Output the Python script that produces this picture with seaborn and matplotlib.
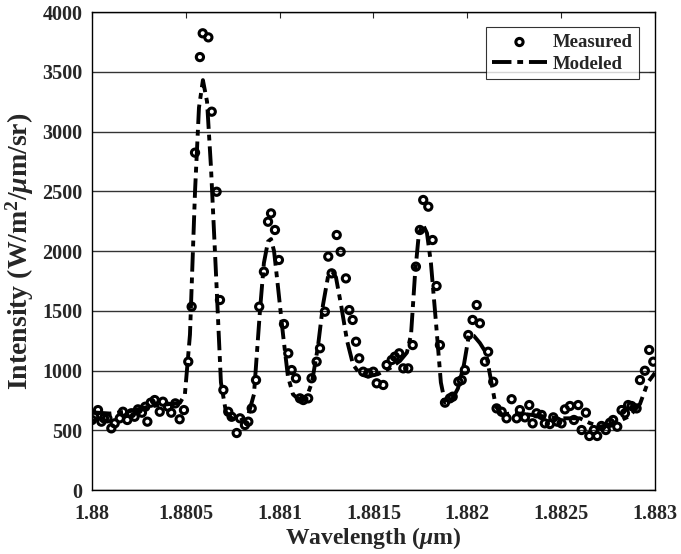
import matplotlib
matplotlib.use("Agg")
import matplotlib.pyplot as plt
from matplotlib.ticker import FuncFormatter
import pandas as pd
import seaborn as sns

# Measured spectrum
meas_wl = [
    1.880000, 1.880011, 1.880032, 1.880050, 1.880064, 1.880082, 1.880103, 1.880121,
    1.880148, 1.880165, 1.880188, 1.880209, 1.880227, 1.880245, 1.880266, 1.880284,
    1.880295, 1.880313, 1.880334, 1.880361, 1.880378, 1.880405, 1.880422, 1.880444,
    1.880467, 1.880490, 1.880513, 1.880531, 1.880549, 1.880575, 1.880590, 1.880620,
    1.880638, 1.880664, 1.880682, 1.880700, 1.880726, 1.880744, 1.880771, 1.880789,
    1.880815, 1.880833, 1.880851, 1.880874, 1.880891, 1.880916, 1.880938, 1.880954,
    1.880975, 1.880996, 1.881023, 1.881046, 1.881064, 1.881087, 1.881108, 1.881126,
    1.881152, 1.881170, 1.881197, 1.881215, 1.881241, 1.881259, 1.881277, 1.881304,
    1.881325, 1.881353, 1.881371, 1.881389, 1.881407, 1.881424, 1.881445, 1.881472,
    1.881499, 1.881517, 1.881552, 1.881570, 1.881597, 1.881614, 1.881637, 1.881659,
    1.881685, 1.881709, 1.881726, 1.881747, 1.881765, 1.881792, 1.881815, 1.881836,
    1.881854, 1.881881, 1.881907, 1.881922, 1.881952, 1.881970, 1.881987, 1.882005,
    1.882028, 1.882050, 1.882067, 1.882094, 1.882111, 1.882138, 1.882156, 1.882183,
    1.882209, 1.882236, 1.882263, 1.882280, 1.882307, 1.882330, 1.882348, 1.882369,
    1.882396, 1.882413, 1.882440, 1.882458, 1.882479, 1.882502, 1.882520, 1.882547,
    1.882568, 1.882591, 1.882609, 1.882632, 1.882650, 1.882674, 1.882692, 1.882715,
    1.882738, 1.882760, 1.882777, 1.882799, 1.882822, 1.882840, 1.882857, 1.882875,
    1.882902, 1.882920, 1.882946, 1.882969, 1.882991,
]
meas_val = [
    586, 613, 669, 572, 600, 600, 516, 558,
    600, 655, 586, 642, 613, 675, 647, 697,
    572, 731, 753, 655, 739, 697, 647, 725,
    592, 669, 1074, 1534, 2823, 3623, 3822, 3788,
    3166, 2496, 1590, 837, 655, 613, 477, 600,
    544, 572, 683, 920, 1534, 1827, 2245, 2315,
    2176, 1925, 1389, 1144, 1004, 935, 767, 753,
    767, 935, 1074, 1186, 1492, 1953, 1813, 2134,
    1994, 1771, 1506, 1423, 1241, 1102, 990, 976,
    990, 893, 879, 1046, 1088, 1116, 1144, 1018,
    1018, 1213, 1869, 2176, 2427, 2371, 2092, 1707,
    1213, 731, 767, 781, 906, 920, 1004, 1297,
    1423, 1548, 1395, 1074, 1157, 906, 683, 655,
    600, 760, 600, 669, 608, 711, 558, 642,
    628, 558, 552, 608, 572, 558, 675, 703,
    586, 711, 502, 647, 452, 502, 452, 536,
    502, 563, 586, 530, 669, 642, 711, 703,
    683, 920, 998, 1172, 1074,
]

# Modeled spectrum
model_wl = [
    1.880000, 1.880096, 1.880202, 1.880309, 1.880416, 1.880469, 1.880495, 1.880522,
    1.880549, 1.880570, 1.880591, 1.880613, 1.880634, 1.880661, 1.880687, 1.880714,
    1.880746, 1.880789, 1.880831, 1.880863, 1.880895, 1.880916, 1.880938, 1.880954,
    1.880970, 1.880991, 1.881018, 1.881044, 1.881071, 1.881108, 1.881140, 1.881172,
    1.881204, 1.881231, 1.881257, 1.881279, 1.881300, 1.881327, 1.881359, 1.881391,
    1.881428, 1.881470, 1.881524, 1.881588, 1.881641, 1.881678, 1.881700, 1.881721,
    1.881742, 1.881764, 1.881785, 1.881806, 1.881833, 1.881859, 1.881881, 1.881913,
    1.881950, 1.881982, 1.882009, 1.882035, 1.882067, 1.882099, 1.882126, 1.882152,
    1.882184, 1.882227, 1.882280, 1.882387, 1.882493, 1.882600, 1.882653, 1.882707,
    1.882760, 1.882813, 1.882866, 1.882920, 1.882962, 1.883000,
]
model_val = [
    650, 640, 660, 700, 720, 730, 800, 1300,
    2500, 3200, 3430, 3250, 2700, 1800, 900, 650,
    600, 580, 620, 800, 1500, 1900, 2080, 2100,
    2000, 1700, 1300, 950, 800, 750, 760, 900,
    1200, 1550, 1780, 1830, 1780, 1550, 1250, 1050,
    970, 950, 970, 1020, 1080, 1150, 1300, 1800,
    2150, 2220, 2150, 1900, 1400, 900, 730, 740,
    850, 1050, 1300, 1290, 1230, 1150, 920, 700,
    630, 640, 640, 620, 600, 600, 560, 530,
    550, 580, 620, 720, 900, 980,
]

x_ticks = [1.88, 1.8805, 1.881, 1.8815, 1.882, 1.8825, 1.883]
y_ticks = [0, 500, 1000, 1500, 2000, 2500, 3000, 3500, 4000]

meas = pd.DataFrame({"wl": meas_wl, "val": meas_val})
model = pd.DataFrame({"wl": model_wl, "val": model_val})

sns.set_style("white")
plt.rcParams["font.family"] = ["Liberation Serif", "DejaVu Serif"]
plt.rcParams["font.weight"] = "bold"
plt.rcParams["mathtext.fontset"] = "custom"
plt.rcParams["mathtext.rm"] = "Liberation Serif:bold"
plt.rcParams["mathtext.it"] = "Liberation Serif:italic:bold"
plt.rcParams["mathtext.bf"] = "Liberation Serif:bold"

fig = plt.figure(figsize=(6.81, 5.54), dpi=100)
ax = fig.add_axes([0.1351, 0.1155, 0.8267, 0.8628])

sns.lineplot(data=model, x="wl", y="val", ax=ax, color="black", linewidth=2.8,
             label="Modeled", zorder=2, sort=False)
ax.lines[-1].set_dashes([5, 1.5, 1.5, 1.5])
sns.scatterplot(data=meas, x="wl", y="val", ax=ax, marker="o", s=27,
                facecolor="none", edgecolor="black", linewidth=2.2,
                label="Measured", zorder=3)

ax.set_xlim(1.88, 1.883)
ax.set_ylim(0, 4000)
ax.set_xticks(x_ticks)
ax.set_yticks(y_ticks)
ax.xaxis.set_major_formatter(FuncFormatter(lambda v, p: f"{v:g}"))
ax.yaxis.set_major_formatter(FuncFormatter(lambda v, p: f"{v:g}"))

ax.grid(axis="y", color="#333333", linewidth=1.0)
ax.grid(axis="x", visible=False)
ax.set_axisbelow(True)
for s in ax.spines.values():
    s.set_color("black")
    s.set_linewidth(1.0)

ax.tick_params(direction="in", length=4, width=0.8, top=True, right=True,
               labelsize=14.5)
ax.tick_params(axis="x", pad=10)
ax.tick_params(axis="y", pad=7)
for lab in ax.get_xticklabels() + ax.get_yticklabels():
    lab.set_fontweight("bold")

ax.set_xlabel(r"Wavelength ($\mu$m)", fontsize=17, fontweight="bold", labelpad=1)
ax.set_ylabel(r"Intensity (W/m$^2$/$\mu$m/sr)", fontsize=20, fontweight="bold",
              labelpad=4)

handles, labels = ax.get_legend_handles_labels()
order = [labels.index("Measured"), labels.index("Modeled")]
leg = ax.legend([handles[i] for i in order], [labels[i] for i in order],
                loc="upper right", bbox_to_anchor=(0.978, 0.976), fontsize=13.5,
                frameon=True, fancybox=False, edgecolor="black",
                handlelength=2.9, borderpad=0.35, labelspacing=0.25,
                handletextpad=0.3, borderaxespad=0.2)
leg.get_frame().set_linewidth(0.8)
for t in leg.get_texts():
    t.set_fontweight("bold")

fig.savefig("out.png", dpi=100, facecolor="white")
